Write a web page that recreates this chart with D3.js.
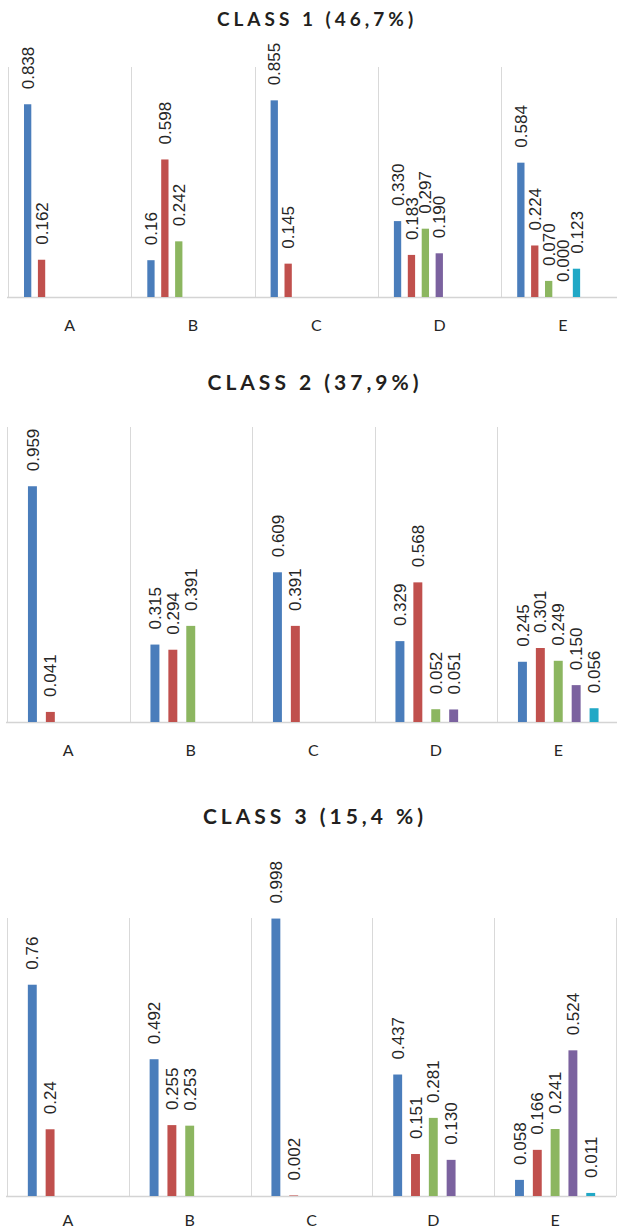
<!DOCTYPE html>
<html>
<head>
<meta charset="utf-8">
<script src="https://cdn.jsdelivr.net/npm/d3@7"></script>
<style>
  body { margin: 0; background: #fff; }
  svg { display: block; }
</style>
</head>
<body>
<svg id="chart" width="617" height="1232"></svg>
<script>
// categories and series
const categories = ["A", "B", "C", "D", "E"];
const seriesNames = ["s1", "s2", "s3", "s4", "s5"];
const seriesColors = ["#4a7dbb", "#c0504d", "#8cb660", "#7b629f", "#21a8c6"];

// panel titles
const titles = ["CLASS 1 (46,7%)", "CLASS 2 (37,9%)", "CLASS 3 (15,4 %)"];

// values per category, as shown on the data labels
const class1Values = [
  ["0.838", "0.162"],
  ["0.16", "0.598", "0.242"],
  ["0.855", "0.145"],
  ["0.330", "0.183", "0.297", "0.190"],
  ["0.584", "0.224", "0.070", "0.000", "0.123"]
];
const class2Values = [
  ["0.959", "0.041"],
  ["0.315", "0.294", "0.391"],
  ["0.609", "0.391"],
  ["0.329", "0.568", "0.052", "0.051"],
  ["0.245", "0.301", "0.249", "0.150", "0.056"]
];
const class3Values = [
  ["0.76", "0.24"],
  ["0.492", "0.255", "0.253"],
  ["0.998", "0.002"],
  ["0.437", "0.151", "0.281", "0.130"],
  ["0.058", "0.166", "0.241", "0.524", "0.011"]
];
const yMaxes = [1.0, 1.2, 1.0];

const allValues = [class1Values, class2Values, class3Values];

// layout of the three stacked panels
const panels = [
  { top: 67,  base: 297,  x0: 8, x1: 624.5, titleY: 18,  titleSize: 19, titleX: 317, catY: 325,  pin: 0.475, pout: 2.17, align: 0.265 },
  { top: 427, base: 722,  x0: 7, x1: 619.5, titleY: 381, titleSize: 21, titleX: 315, catY: 750,  pin: 0.5,   pout: 1.17, align: 0.5 },
  { top: 918, base: 1196, x0: 7, x1: 616,   titleY: 815, titleSize: 21, titleX: 315, catY: 1220, pin: 0.5,   pout: 1.17, align: 0.5 }
];

const svg = d3.select("#chart");

panels.forEach((p, pi) => {
  const g = svg.append("g");

  const x = d3.scaleBand()
    .domain(categories)
    .range([p.x0, p.x1])
    .padding(0);

  const x1 = d3.scaleBand()
    .domain(seriesNames)
    .range([0, x.bandwidth()])
    .paddingInner(p.pin)
    .paddingOuter(p.pout)
    .align(p.align);

  const y = d3.scaleLinear()
    .domain([0, yMaxes[pi]])
    .range([p.base, p.top]);

  // title
  g.append("text")
    .attr("x", p.titleX)
    .attr("y", p.titleY)
    .attr("text-anchor", "middle")
    .attr("dominant-baseline", "central")
    .attr("font-family", "Lato, 'Open Sans', sans-serif")
    .attr("font-weight", 700)
    .attr("font-size", p.titleSize)
    .attr("letter-spacing", "4px")
    .attr("fill", "#231f20")
    .text(titles[pi]);

  // vertical separators between categories
  const bounds = categories.map(c => x(c)).concat([p.x1]);
  g.selectAll("line.grid")
    .data(bounds)
    .join("line")
    .attr("class", "grid")
    .attr("x1", d => Math.round(d) + 0.5)
    .attr("x2", d => Math.round(d) + 0.5)
    .attr("y1", p.top)
    .attr("y2", p.base)
    .attr("stroke", "#d9d9d9")
    .attr("stroke-width", 1);

  // baseline
  g.append("line")
    .attr("x1", p.x0 - 1)
    .attr("x2", p.x1)
    .attr("y1", p.base + 0.5)
    .attr("y2", p.base + 0.5)
    .attr("stroke", "#d4d4d4")
    .attr("stroke-width", 1.6);

  // bars and data labels
  const rows = [];
  allValues[pi].forEach((vals, ci) => {
    vals.forEach((v, si) => {
      rows.push({ cat: categories[ci], s: seriesNames[si], si: si, label: v, value: +v });
    });
  });

  g.selectAll("rect.bar")
    .data(rows)
    .join("rect")
    .attr("class", "bar")
    .attr("x", d => x(d.cat) + x1(d.s))
    .attr("width", x1.bandwidth())
    .attr("y", d => y(d.value))
    .attr("height", d => p.base - y(d.value))
    .attr("fill", d => seriesColors[d.si]);

  g.selectAll("text.lbl")
    .data(rows)
    .join("text")
    .attr("class", "lbl")
    .attr("transform", d => `translate(${x(d.cat) + x1(d.s) + x1.bandwidth() / 2},${y(d.value) - 15}) rotate(-90)`)
    .attr("dy", "0.36em")
    .attr("text-anchor", "start")
    .attr("font-family", "'Liberation Sans', Arial, sans-serif")
    .attr("font-size", 17)
    .attr("fill", "#262626")
    .text(d => d.label);

  // category axis
  const axis = g.append("g")
    .attr("transform", `translate(0,${p.catY})`)
    .call(d3.axisBottom(x).tickSize(0).tickPadding(0));
  axis.select(".domain").remove();
  axis.selectAll("text")
    .attr("dy", "0.35em")
    .attr("font-family", "Lato, sans-serif")
    .attr("font-size", 16)
    .attr("fill", "#262626");
});
</script>
</body>
</html>
